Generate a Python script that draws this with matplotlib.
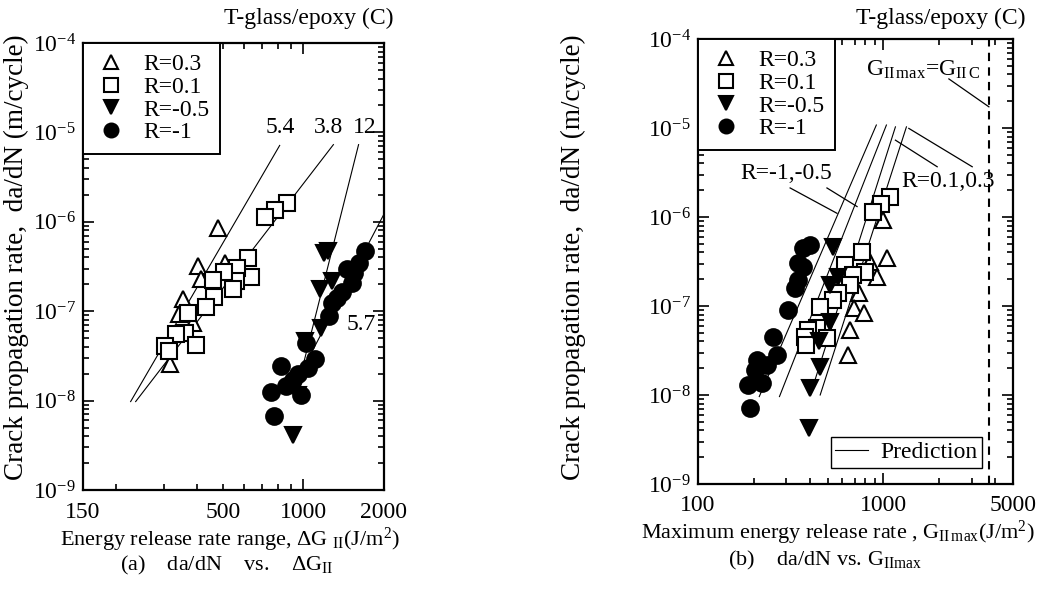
import numpy as np
import matplotlib
matplotlib.use("Agg")
import matplotlib.pyplot as plt
from matplotlib.ticker import FixedLocator, FuncFormatter, NullFormatter, LogFormatterMathtext, LogLocator
from matplotlib.lines import Line2D

plt.rcParams['font.family'] = 'Liberation Serif'
plt.rcParams['mathtext.fontset'] = 'custom'
plt.rcParams['mathtext.rm'] = 'Liberation Serif'
plt.rcParams['mathtext.it'] = 'Liberation Serif:italic'
plt.rcParams['font.size'] = 17

# ---- (a) da/dN vs delta G_II ----
a_r03_x = [478, 402, 509, 414, 356, 343, 385, 317]
a_r03_y = [8.6e-7, 3.2e-7, 3.5e-7, 2.3e-7, 1.36e-7, 9.2e-8, 7.4e-8, 2.6e-8]
a_r01_x = [871, 780, 720, 620, 638, 565, 560, 544, 506, 458, 464, 432, 371, 361, 333, 396, 305, 314]
a_r01_y = [1.62e-6, 1.36e-6, 1.12e-6, 3.97e-7, 2.41e-7, 3.07e-7, 2.17e-7, 1.75e-7, 2.77e-7,
           2.21e-7, 1.44e-7, 1.11e-7, 9.6e-8, 5.7e-8, 5.5e-8, 4.2e-8, 4.05e-8, 3.56e-8]
a_rm05_x = [1238, 1189, 1274, 1152, 1162, 1017, 955, 914]
a_rm05_y = [4.7e-7, 4.5e-7, 2.17e-7, 1.75e-7, 6.5e-8, 4.6e-8, 1.16e-8, 4.1e-9]
a_rm1_x = [1695, 1611, 1452, 1515, 1541, 1389, 1331, 1274, 1241, 1026, 1100, 1044, 958, 827, 863, 758, 778, 983, 917]
a_rm1_y = [4.72e-7, 3.46e-7, 2.96e-7, 2.06e-7, 2.67e-7, 1.63e-7, 1.40e-7, 1.23e-7, 8.8e-8, 4.37e-8,
           2.89e-8, 2.29e-8, 1.96e-8, 2.41e-8, 1.44e-8, 1.26e-8, 6.8e-9, 1.17e-8, 1.68e-8]

# fitted lines (end points) and slope labels
a_fit_x = [[226, 815], [236, 1294], [928, 1607], [983, 2030]]
a_fit_y = [[9.75e-9, 7.15e-6], [9.75e-9, 7.3e-6], [1.06e-8, 7.3e-6], [2.1e-8, 1.33e-6]]
a_slope_txt = ['5.4', '3.8', '12', '5.7']
a_slope_x = [820, 1241, 1695, 1637]
a_slope_y = [1.14e-5, 1.14e-5, 1.14e-5, 7.1e-8]

# ---- (b) da/dN vs G_IImax ----
b_r03_x = [995, 1047, 925, 844, 736, 691, 783, 663, 641]
b_r03_y = [9.2e-7, 3.43e-7, 2.13e-7, 3.15e-7, 1.39e-7, 9.4e-8, 8.3e-8, 5.4e-8, 2.8e-8]
b_r01_x = [1091, 975, 883, 769, 800, 624, 689, 663, 571, 537, 456, 439, 393, 498, 379, 384]
b_r01_y = [1.69e-6, 1.40e-6, 1.14e-6, 4.05e-7, 2.41e-7, 2.89e-7, 2.23e-7, 1.72e-7, 1.40e-7,
           1.17e-7, 9.8e-8, 5.7e-8, 5.4e-8, 4.37e-8, 4.5e-8, 3.65e-8]
b_rm05_x = [537, 571, 517, 517, 451, 456, 403, 398]
b_rm05_y = [4.6e-7, 2.12e-7, 1.72e-7, 6.6e-8, 4.05e-8, 2.07e-8, 1.2e-8, 4.25e-9]
b_rm1_x = [403, 370, 348, 370, 348, 334, 306, 254, 208, 267, 236, 222, 186, 191, 203]
b_rm1_y = [4.85e-7, 4.5e-7, 3.04e-7, 2.74e-7, 1.96e-7, 1.59e-7, 9.0e-8, 4.48e-8, 2.47e-8,
           2.81e-8, 2.17e-8, 1.36e-8, 1.30e-8, 7.1e-9, 1.9e-8]

b_pred_x = [[214, 916], [275, 1038], [403, 1161], [456, 1331]]
b_pred_y = [[9.6e-9, 1.08e-5], [9.6e-9, 1.08e-5], [1.0e-8, 1.03e-5], [1.0e-8, 1.03e-5]]
g_iic = 3700

series_style = [
    dict(marker='^', mfc='white', label='R=0.3'),
    dict(marker='s', mfc='white', label='R=0.1'),
    dict(marker='v', mfc='black', label='R=-0.5'),
    dict(marker='o', mfc='black', label='R=-1'),
]

fig = plt.figure(figsize=(10.46, 5.9), dpi=100)
axa = fig.add_axes([83/1046, 1-490/590, 301/1046, 447/590])
axb = fig.add_axes([698/1046, 1-484/590, 315/1046, 445/590])


def style_axes(ax, xpad):
    ax.set_xscale('log')
    ax.set_yscale('log')
    ax.set_ylim(1e-9, 1e-4)
    for s in ax.spines.values():
        s.set_linewidth(1.6)
    ax.tick_params(which='both', direction='in', top=True, right=True, width=1.2, labelsize=17)
    ax.tick_params(axis='x', which='both', pad=xpad)
    ax.tick_params(axis='y', which='both', pad=5)
    ax.tick_params(which='major', length=8)
    ax.tick_params(which='minor', length=4)
    ax.yaxis.set_major_locator(LogLocator(base=10, numticks=10))
    ax.yaxis.set_minor_locator(LogLocator(base=10, subs=np.arange(2, 10), numticks=10))
    ax.yaxis.set_major_formatter(LogFormatterMathtext())
    ax.yaxis.set_minor_formatter(NullFormatter())


def draw_points(ax, xs, ys):
    for (x, y), st in zip(zip(xs, ys), series_style):
        ax.plot(x, y, linestyle='none', marker=st['marker'], mfc=st['mfc'], mec='black',
                mew=1.5, ms=12, zorder=3)


def legend_handles():
    return [Line2D([], [], linestyle='none', marker=st['marker'], mfc=st['mfc'], mec='black',
                   mew=1.5, ms=10, label=st['label']) for st in series_style]


# ---------------- panel (a)
style_axes(axa, 9)
axa.set_xlim(150, 2000)
axa.xaxis.set_major_locator(FixedLocator([1000]))
axa.xaxis.set_minor_locator(FixedLocator([150, 200, 300, 400, 500, 600, 700, 800, 900, 2000]))
axa.xaxis.set_major_formatter(FuncFormatter(lambda v, p: '%d' % v))
axa.xaxis.set_minor_formatter(FuncFormatter(lambda v, p: '%d' % v if v in (150, 500, 2000) else ''))

for fx, fy in zip(a_fit_x, a_fit_y):
    axa.plot(fx, fy, color='black', lw=0.8, zorder=2)
draw_points(axa, [a_r03_x, a_r01_x, a_rm05_x, a_rm1_x], [a_r03_y, a_r01_y, a_rm05_y, a_rm1_y])
for t, x, y in zip(a_slope_txt, a_slope_x, a_slope_y):
    axa.text(x, y, t, ha='center', va='center', fontsize=17)

leg = axa.legend(handles=legend_handles(), loc='upper left', borderaxespad=0, fancybox=False,
                 edgecolor='black', framealpha=1, handlelength=1.5, handletextpad=0.6,
                 borderpad=0.45, labelspacing=0.05, fontsize=17)
leg.get_frame().set_linewidth(1.4)

axa.set_ylabel('Crack propagation rate,  da/dN (m/cycle)', fontsize=19.5)
axa.yaxis.set_label_coords(-0.18, 0.52)
fig.text(393/1046, 1-18/590, 'T-glass/epoxy (C)', ha='right', va='center', fontsize=17)
fig.text(230/1046, 1-540/590, 'Energy release rate range, ΔG $_{\\rm II}$(J/m$^2$)',
         ha='center', va='center', fontsize=16)
fig.text(227/1046, 1-565/590, '(a)    da/dN    vs.    ΔG$_{\\rm II}$', ha='center', va='center',
         fontsize=16)

# ---------------- panel (b)
style_axes(axb, 8)
axb.set_xlim(100, 5000)
axb.xaxis.set_major_locator(FixedLocator([100, 1000]))
axb.xaxis.set_minor_locator(FixedLocator([200, 300, 400, 500, 600, 700, 800, 900, 2000, 3000, 4000, 5000]))
axb.xaxis.set_major_formatter(FuncFormatter(lambda v, p: '%d' % v))
axb.xaxis.set_minor_formatter(FuncFormatter(lambda v, p: '%d' % v if v == 5000 else ''))

for fx, fy in zip(b_pred_x, b_pred_y):
    axb.plot(fx, fy, color='black', lw=0.8, zorder=2)
axb.axvline(g_iic, color='black', lw=1.5, dashes=(4, 3), zorder=2)
draw_points(axb, [b_r03_x, b_r01_x, b_rm05_x, b_rm1_x], [b_r03_y, b_r01_y, b_rm05_y, b_rm1_y])

# annotations
axb.text(301, 3.1e-6, 'R=-1,-0.5', ha='center', va='center', fontsize=17)
axb.plot([314, 562], [2.12e-6, 1.10e-6], color='black', lw=0.9)
axb.plot([496, 721], [2.12e-6, 1.31e-6], color='black', lw=0.9)
axb.text(2234, 2.5e-6, 'R=0.1,0.3', ha='center', va='center', fontsize=17)
axb.plot([1950, 1161], [3.67e-6, 7.3e-6], color='black', lw=0.9)
axb.plot([3013, 1371], [3.67e-6, 9.9e-6], color='black', lw=0.9)
axb.text(1645, 4.5e-5, 'G$_{\\rm II\\,max}$=G$_{\\rm II\\,C}$', ha='center', va='center', fontsize=17)
axb.plot([2255, 3706], [3.56e-5, 1.73e-5], color='black', lw=0.9)

leg1 = axb.legend(handles=legend_handles(), loc='upper left', borderaxespad=0, fancybox=False,
                  edgecolor='black', framealpha=1, handlelength=1.5, handletextpad=0.6,
                  borderpad=0.45, labelspacing=0.05, fontsize=17)
leg1.get_frame().set_linewidth(1.4)
axb.add_artist(leg1)
leg2 = axb.legend(handles=[Line2D([], [], color='black', lw=0.8, label='Prediction')],
                  loc='lower right', bbox_to_anchor=(982/1046, 1-468/590), bbox_transform=fig.transFigure,
                  borderaxespad=0, fancybox=False, edgecolor='black', framealpha=1, handlelength=1.4,
                  handletextpad=0.5, borderpad=0.2, fontsize=17)
leg2.get_frame().set_linewidth(1.0)

axb.set_ylabel('Crack propagation rate,  da/dN (m/cycle)', fontsize=19.5)
axb.yaxis.set_label_coords(-0.355, 0.51)
fig.text(1025/1046, 1-18/590, 'T-glass/epoxy (C)', ha='right', va='center', fontsize=17)
fig.text(838/1046, 1-533/590, 'Maximum energy release rate , G$_{\\rm II\\,max}$(J/m$^2$)',
         ha='center', va='center', fontsize=16)
fig.text(825/1046, 1-560/590, '(b)    da/dN vs. G$_{\\rm IImax}$', ha='center', va='center', fontsize=16)

fig.savefig('out.png', dpi=100)
